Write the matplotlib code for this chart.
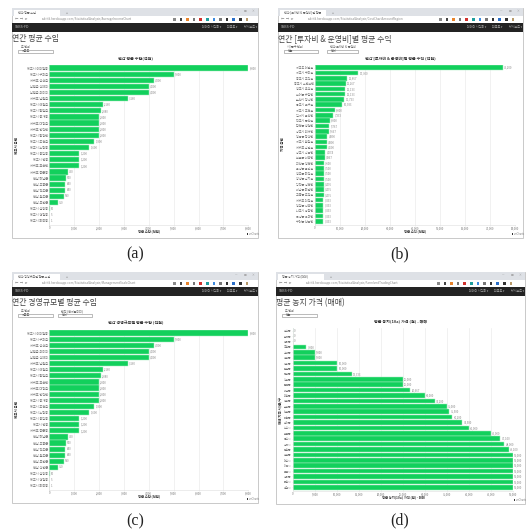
import matplotlib
matplotlib.use("Agg")
import matplotlib.pyplot as plt
from matplotlib.patches import Rectangle

plt.rcParams['font.family'] = ['Noto Sans CJK KR', 'DejaVu Sans']

W, H = 526, 532

# (a) 연간 평균 수입
names_a = ['제주시 아라일동', '제주시 구좌읍', '서귀포 성산읍', '남원읍 신례리', '남원읍 위미리', '서귀포 남원읍',
           '제주시 애월읍', '제주시 한림읍', '제주시 봉개동', '서귀포 대정읍', '서귀포 안덕면', '제주시 한경면',
           '제주시 조천읍', '제주시 노형동', '제주시 용담동', '제주시 연동', '서귀포 표선면', '서귀포 중문동',
           '전남 해남군', '전남 고흥군', '전남 진도군', '전남 완도군', '전남 무안군', '제주시 삼양동', '제주시 건입동', '제주시 화북동']
vals_a = [8000, 5000, 4200, 4000, 4000, 3160, 2160, 2080, 2000, 2000, 2000, 2000, 1800, 1600,
          1200, 1200, 1200, 750, 670, 640, 640, 590, 350, 10, 5, 1]
ticks_a = [0, 1000, 2000, 3000, 4000, 5000, 6000, 7000, 8000]

# (b) 연간 [투자비 & 운영비]별 평균 수익
names_b = ['제주도 애월읍', '제주시 구좌읍', '충주시 주덕읍', '충주시 수안보면', '청주시 오창읍', '부여군 규암면',
           '논산시 광석면', '공주시 유구읍', '제주시 조천읍', '김제시 금산면', '진주시 문산읍', '합천군 쌍책면',
           '상주시 외서면', '영동군 황간면', '제주시 한림읍', '서귀포 남원읍', '상주시 낙동면', '보은군 내북면',
           '괴산군 청천면', '음성군 금왕읍', '청도군 화양읍', '창녕군 남지읍', '강진군 성전면', '해남군 화원면',
           '고흥군 도양읍', '서귀포 대정읍', '영암군 신북면', '나주시 봉황면', '곡성군 옥과면', '구례군 산동면']
vals_b = [75200, 17300, 12867, 12267, 12133, 12133, 11733, 10933, 8000, 7333, 6000, 5767, 5667, 4890, 4800,
          4600, 4074, 3867, 3600, 3500, 3500, 3500, 3476, 3475, 3475, 3333, 3333, 3333, 3333, 3333]
ticks_b = [0, 10000, 20000, 30000, 40000, 50000, 60000, 70000, 80000]

# (c) 연간 경영규모별 평균 수입
names_c = ['제주시 아라일동', '제주시 구좌읍', '서귀포 성산읍', '남원읍 위미리', '남원읍 신례리', '서귀포 남원읍',
           '제주시 애월읍', '제주시 한림읍', '서귀포 표선면', '서귀포 대정읍', '서귀포 안덕면', '제주시 봉개동',
           '제주시 조천읍', '제주시 노형동', '제주시 용담동', '제주시 연동', '서귀포 중문동', '전남 해남군',
           '전남 고흥군', '전남 진도군', '전남 완도군', '전남 무안군', '전남 신안군', '제주시 삼양동', '제주시 건입동', '제주시 화북동']
vals_c = list(vals_a)
ticks_c = list(ticks_a)

# (d) 평균 농지 가격 (매매)
names_d = ['양구군', '인제군', '봉화군', '곡성군', '구례군', '영양군', '청송군', '임실군',
           '단양군', '신안군', '합천군', '해남군', '의성군', '청양군', '순창군', '산청군',
           '괴산군', '부여군', '나주시', '연천군', '공주시', '김제시', '횡성군', '양평군',
           '여주시', '이천시', '포천시', '강화군', '화성시', '평택시']
vals_d = [0, 0, 0, 3000, 5000, 5000, 10000, 10000, 13333, 25000, 25000, 26667, 30000, 32200, 35000, 35500, 36200,
          38500, 40000, 45000, 47100, 48000, 49100, 50000, 50000, 50000, 50000, 50000, 50000, 50000]
ticks_d = [0, 5000, 10000, 15000, 20000, 25000, 30000, 35000, 40000, 45000, 50000]

icon_colors = ['#8a8a8a', '#444444', '#e8842c', '#777777', '#d0312d', '#1f9e9e', '#3d8be0',
               '#777777', '#333333', '#2a6fc9', '#333333', '#b89a6a']

panels = [
    dict(frame=(12, 8, 258, 238), ax=(49.3, 65, 248.3, 224.5), xmax=8000, names=names_a, vals=vals_a, ticks=ticks_a,
         title='연간 평균 수입', tab='연간 평균 수입', url='ssbi-fd.herokuapp.com/StatisticalAnalysis/AverageIncomeChart',
         ctitle='연간 평균 수입(천원)', xlabel='평균 수입 (천원)', ylabel='제주시 읍면',
         ylabel_xy=(17, 145), boxes=[(18, 53, '도 단위', '제주도')], cap='(a)', cap_xy=(135, 254), ctx=136, lab=2.3),
    dict(frame=(278, 8, 523, 238), ax=(315, 65, 515, 224.5), xmax=80000, names=names_b, vals=vals_b, ticks=ticks_b,
         title='연간 [투자비 & 운영비]별 평균 수익', tab='연간 [투자비 & 운영비]별 평균', url='ssbi-fd.herokuapp.com/StatisticalAnalysis/CostChartAmountRegion',
         ctitle='연간 [투자비 & 운영비]별 평균 수익 (천원)', xlabel='평균 수익 (천원)', ylabel='지역 읍면',
         ylabel_xy=(283, 144), boxes=[(284, 318, '시/군구 단위', '전국'), (327, 358, '연간 투자비 & 운영비', '전체')], cap='(b)', cap_xy=(400, 254), ctx=400.5, lab=2.2),
    dict(frame=(12, 272, 258, 503), ax=(49.3, 330, 248.3, 489.5), xmax=8000, names=names_c, vals=vals_c, ticks=ticks_c,
         title='연간 경영규모별 평균 수입', tab='연간 경영규모별 평균 수입', url='ssbi-fd.herokuapp.com/StatisticalAnalysis/ManagementScaleChart',
         ctitle='연간 경영규모별 평균 수입 (천원)', xlabel='평균 수입 (천원)', ylabel='제주시 읍면',
         ylabel_xy=(17, 410), boxes=[(18, 53, '도 단위', '제주도'), (58, 92, '면적 (천제곱미터)', '전체')], cap='(c)', cap_xy=(135, 521), ctx=135.5, lab=2.3),
    dict(frame=(276, 272, 525, 504), ax=(293, 328, 513, 490.5), xmax=50000, names=names_d, vals=vals_d, ticks=ticks_d,
         title='평균 농지 가격 (매매)', tab='평균 농지 가격 (매매)', url='ssbi-fd.herokuapp.com/StatisticalAnalysis/FarmlandTradingChart',
         ctitle='평균 농지(10a) 가격 (원) - 매매', xlabel='평균 농지(10a) 가격 (원) - 매매', ylabel='재배 지역 시/군/구',
         ylabel_xy=(280.5, 410), boxes=[(282, 317, '도 단위', '전국')], cap='(d)', cap_xy=(400, 520), ctx=400.5, lab=2.0),
]

fig = plt.figure(figsize=(W / 100, H / 100), dpi=100, facecolor='white')

# whole figure in pixels for the browser chrome around each chart
bg = fig.add_axes([0, 0, 1, 1])
bg.set_xlim(0, W)
bg.set_ylim(H, 0)
bg.axis('off')


def box(x0, y0, x1, y1, fc, ec='none', lw=0, z=1):
    bg.add_patch(Rectangle((x0, y0), x1 - x0, y1 - y0, facecolor=fc, edgecolor=ec, linewidth=lw, zorder=z))


for p in panels:
    l, t, r, b = p['frame']
    box(l, t, r, b, 'white', ec='#c9c9c9', lw=0.7)
    box(l, t, r, t + 7.5, '#dee1e6', z=2)
    box(l + 2, t + 1.5, l + 48, t + 7.5, 'white', z=3)
    bg.text(l + 6, t + 4.6, p['tab'], fontsize=2.2, color='#666666', va='center', zorder=4)
    bg.text(l + 54, t + 4.6, '+', fontsize=2.6, color='#666666', va='center', zorder=4)
    for dx, s in [(22, '—'), (13, '□'), (5, '×')]:
        bg.text(r - dx, t + 3.2, s, fontsize=2, color='#999999', va='center', ha='center', zorder=4)
    bg.text(l + 3, t + 11.3, '←  →  ⟳', fontsize=2.4, color='#888888', va='center', zorder=4)
    bg.text(l + 30, t + 11.3, p['url'], fontsize=2.2, color='#888888', va='center', zorder=4)
    for k, c in enumerate(icon_colors):
        box(l + 161 + k * 6.6, t + 10, l + 163.6 + k * 6.6, t + 12.8, c, z=4)
    box(l, t + 15, r, t + 24, '#232323', z=2)
    bg.text(l + 3, t + 19.5, 'SSBS-FD', fontsize=2.6, color='#bbbbbb', va='center', zorder=4)
    for dx, s in [(56, '데이터 시각화 ▾'), (31, '리포트 ▾'), (14, '닷시보드 ▾')]:
        bg.text(r - dx, t + 19.5, s, fontsize=2.2, color='#aaaaaa', va='center', zorder=4)
    bg.text(l + 0.5, t + 31, p['title'], fontsize=5.7, color='#444444', va='center', zorder=4)
    for bx0, bx1, lab, val in p['boxes']:
        bg.text(bx0 + 3, t + 39, lab, fontsize=2.2, color='#666666', va='center', zorder=4)
        box(bx0, t + 41.6, bx1, t + 44.6, 'white', ec='#888888', lw=0.4, z=4)
        bg.text(bx0 + 4, t + 43.1, val, fontsize=2.2, color='#555555', va='center', zorder=5)
    ax0, ay0, ax1, ay1 = p['ax']
    bg.text(p['ctx'], ay0 - 7, p['ctitle'], fontsize=2.9, color='#333333',
            weight='bold', ha='center', va='center', zorder=4)
    bg.text((ax0 + ax1) / 2, ay1 + 6.8, p['xlabel'], fontsize=2.4, color='#444444', weight='bold',
            ha='center', va='center', zorder=4)
    bg.text(p['ylabel_xy'][0], p['ylabel_xy'][1], p['ylabel'], fontsize=2.5, color='#333333', weight='bold',
            rotation=90, ha='center', va='center', zorder=4)
    box(r - 11, b - 4.7, r - 10, b - 3, '#333333', z=4)
    bg.text(r - 9.5, b - 3.8, 'amCharts', fontsize=1.8, color='#888888', va='center', zorder=4)
    bg.text(p['cap_xy'][0], p['cap_xy'][1], p['cap'], fontsize=11.5, family='Liberation Serif', color='#222222',
            ha='center', va='center', zorder=4)

    # the bar chart itself
    ax = fig.add_axes([ax0 / W, 1 - ay1 / H, (ax1 - ax0) / W, (ay1 - ay0) / H], zorder=2)
    ax.set_facecolor('none')
    ys = list(range(len(p['vals'])))
    ax.barh(ys, p['vals'], height=0.86, color='#12d05c', edgecolor='#a6ecc0', linewidth=0.35, zorder=2)
    ax.set_xlim(0, p['xmax'])
    ax.set_ylim(len(ys) - 0.4, -0.5)
    ax.set_yticks(ys)
    ax.set_yticklabels(p['names'], fontsize=p['lab'], color='#777777')
    ax.set_xticks(p['ticks'])
    ax.set_xticklabels([f'{v:,}' for v in p['ticks']], fontsize=2.0, color='#777777')
    ax.tick_params(length=0.6, width=0.25, pad=0.5, color='#bbbbbb')
    ax.grid(axis='x', color='#ececec', linewidth=0.5, zorder=0)
    for side in ['top', 'right']:
        ax.spines[side].set_visible(False)
    for side in ['left', 'bottom']:
        ax.spines[side].set_color('#dddddd')
        ax.spines[side].set_linewidth(0.4)
    for y, v in zip(ys, p['vals']):
        ax.text(v + p['xmax'] * 0.006, y, f'{v:,}', fontsize=2.0, color='#888888', va='center', clip_on=False, zorder=3)

fig.savefig('out.png', dpi=100)
